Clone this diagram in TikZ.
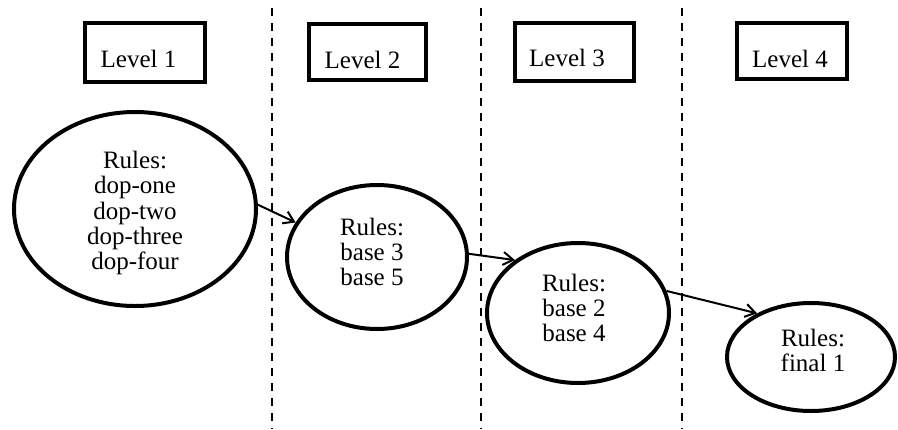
\documentclass[tikz,border=0pt]{standalone}
\usepackage{fontspec}
\setmainfont{Liberation Serif}
\usetikzlibrary{shapes.geometric,arrows.meta}
\begin{document}
\begin{tikzpicture}[x=1pt,y=-1pt,
  lvlbox/.style={draw,line width=4.5pt,inner sep=0pt},
  lvltext/.style={font=\fontsize{25}{25}\selectfont,inner sep=0pt},
  rulell/.style={draw,ellipse,line width=4pt,inner sep=0pt},
  ruletext/.style={font=\fontsize{25}{25.3}\selectfont,align=center,inner sep=0pt},
  divider/.style={line width=2pt,dash pattern=on 8pt off 7pt},
  flow/.style={line width=2pt,-{Straight Barb[length=10pt,width=13pt,line width=2pt]}}]
\fill[white] (0,0) rectangle (898,429);
\useasboundingbox (0,0) rectangle (898,429);
% dividers
\draw[divider] (272,8) -- (272,429);
\draw[divider] (481,8) -- (481,429);
\draw[divider] (682,8) -- (682,429);
% level boxes
\node[lvlbox,minimum width=120pt,minimum height=59pt] (b1) at (145,52.5) {};
\node[lvltext] (t1) at (138.5,58.5) {Level 1};
\node[lvlbox,minimum width=117pt,minimum height=56pt] (b2) at (367.5,52) {};
\node[lvltext] (t2) at (362.5,60) {Level 2};
\node[lvlbox,minimum width=119pt,minimum height=58pt] (b3) at (574.5,52) {};
\node[lvltext] (t3) at (567,58) {Level 3};
\node[lvlbox,minimum width=110pt,minimum height=56pt] (b4) at (792,51) {};
\node[lvltext] (t4) at (790,58.5) {Level 4};
% ellipses
\node[rulell,minimum width=242pt,minimum height=194pt] (e1) at (135,209) {};
\node[ruletext] (r1) at (135,213) {Rules:\\dop-one\\dop-two\\dop-three\\dop-four};
\node[rulell,minimum width=180pt,minimum height=144pt] (e2) at (377,257) {};
\node[ruletext] (r2) at (372,252) {Rules:\\base 3\\base 5};
\node[rulell,minimum width=182pt,minimum height=140pt] (e3) at (578,313) {};
\node[ruletext] (r3) at (574,308) {Rules:\\base 2\\base 4};
\node[rulell,minimum width=168pt,minimum height=108pt] (e4) at (811,357) {};
\node[ruletext] (r4) at (813,350.5) {Rules:\\final 1};
% connectors
\draw[flow] (e1.2) -- (e2.157);
\draw[flow] (e2.2.5) -- (e3.140);
\draw[flow] (e3.14.5) -- (e4.141.6);
\end{tikzpicture}
\end{document}
